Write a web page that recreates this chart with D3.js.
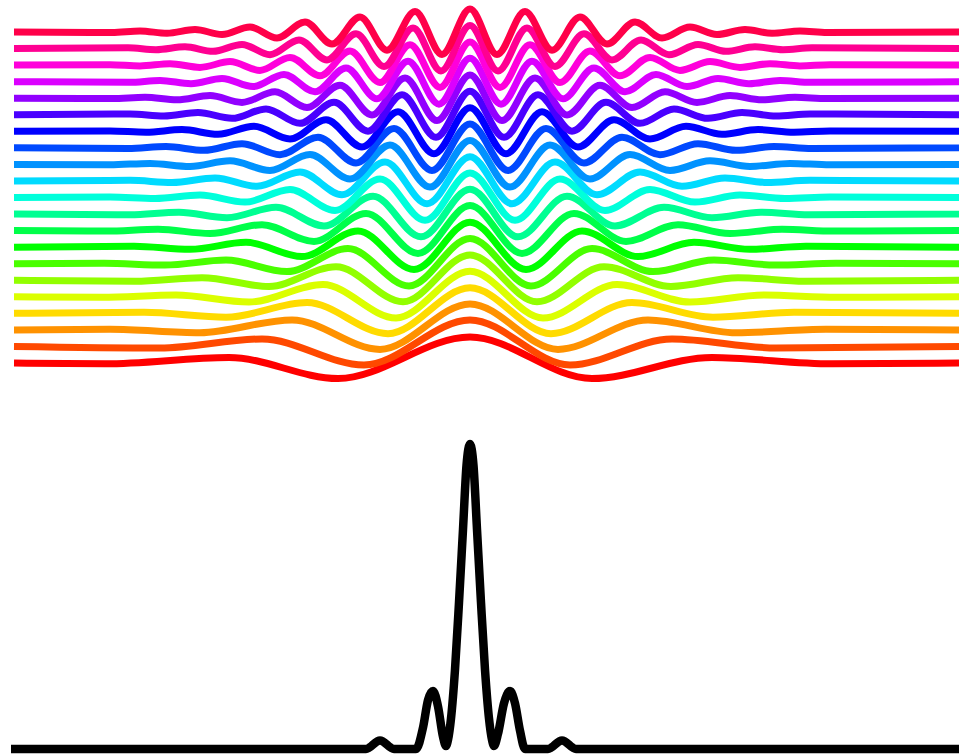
<!DOCTYPE html>
<html>
<head>
<meta charset="utf-8">
<script src="https://cdn.jsdelivr.net/npm/d3@7"></script>
<style>
  html, body { margin: 0; padding: 0; background: #ffffff; }
  svg { display: block; }
</style>
</head>
<body>
<svg id="chart" width="959" height="756"></svg>
<script>
// Component waves, lowest frequency (row00) to highest (row20).
// Each point: [offset from packet centre, displacement] at the wave's crests and troughs,
// with the flat ends of every trace.
const row00 = [[-456,0],[-365,-0.8],[-241,5.5],[-132,-15.5],[0,26],[122,-15.5],[242,5.5],[362,-0.8],[489,0]];
const row01 = [[-456,0],[-310,-1.5],[-208,7.5],[-106,-18.5],[0,26.5],[100,-18.5],[202,7.5],[306,-1.5],[489,0]];
const row02 = [[-456,0],[-360,0.6],[-270,-2.8],[-178,10],[-90,-19.5],[0,26],[88,-19.5],[178,10],[266,-2.8],[356,0.6],[489,0]];
const row03 = [[-456,0],[-326,1.1],[-244,-3.8],[-163,10.8],[-82,-20.3],[0,25.5],[81,-20.3],[162,10.8],[243,-3.8],[324,1.1],[489,0]];
const row04 = [[-456,0],[-368,-0.5],[-294,1.8],[-221,-5.2],[-147,12.2],[-74,-21.2],[0,25.5],[73,-21.2],[147,12.2],[220,-5.2],[294,1.8],[367,-0.5],[489,0]];
const row05 = [[-456,0],[-335,-0.9],[-268,2.6],[-201,-6.2],[-134,13.6],[-67,-21.6],[0,25.3],[67,-21.6],[134,13.6],[201,-6.2],[268,2.6],[335,-0.9],[489,0]];
const row06 = [[-456,0],[-366,0.5],[-305,-1.4],[-244,3.6],[-183,-7.9],[-122,15.1],[-61,-22.2],[0,25.2],[61,-22.2],[122,15.1],[183,-7.9],[244,3.6],[305,-1.4],[366,0.5],[489,0]];
const row07 = [[-456,0],[-336,0.9],[-280,-2.2],[-224,4.8],[-168,-9.4],[-112,16.2],[-56,-22.4],[0,25],[56,-22.4],[112,16.2],[168,-9.4],[224,4.8],[280,-2.2],[336,0.9],[489,0]];
const row08 = [[-456,0],[-364,-0.5],[-312,1.3],[-260,-2.9],[-208,5.9],[-156,-10.8],[-104,17.2],[-52,-22.8],[0,25],[52,-22.8],[104,17.2],[156,-10.8],[208,5.9],[260,-2.9],[312,1.3],[364,-0.5],[489,0]];
const row09 = [[-456,0],[-340,-0.8],[-291,1.8],[-243,-3.6],[-194,6.7],[-146,-11.9],[-97,17.9],[-49,-22.8],[0,24.8],[48,-22.8],[97,17.9],[145,-11.9],[194,6.7],[242,-3.6],[291,1.8],[339,-0.8],[489,0]];
const row10 = [[-456,0],[-360,0.5],[-315,-1.1],[-270,2.4],[-225,-4.6],[-180,8.0],[-135,-13.0],[-90,18.5],[-45,-22.8],[0,24.5],[45,-22.8],[90,18.5],[135,-13.0],[180,8.0],[225,-4.6],[270,2.4],[315,-1.1],[360,0.5],[489,0]];
const row11 = [[-456,0],[-340,0.6],[-298,-1.5],[-255,3.0],[-213,-5.4],[-170,8.9],[-128,-13.8],[-85,18.9],[-43,-22.8],[0,24.3],[42,-22.8],[85,18.9],[127,-13.8],[170,8.9],[212,-5.4],[255,3.0],[297,-1.5],[340,0.6],[489,0]];
const row12 = [[-456,0],[-360,-0.4],[-320,1.0],[-280,-2.0],[-240,3.6],[-200,-6.0],[-160,9.9],[-120,-14.6],[-80,19.3],[-40,-22.7],[0,24],[40,-22.7],[80,19.3],[120,-14.6],[160,9.9],[200,-6.0],[240,3.6],[280,-2.0],[320,1.0],[360,-0.4],[489,0]];
const row13 = [[-456,0],[-342,-0.7],[-304,1.3],[-266,-2.5],[-228,4.2],[-190,-6.8],[-152,10.7],[-114,-15.1],[-76,19.4],[-38,-22.6],[0,23.8],[38,-22.6],[76,19.4],[114,-15.1],[152,10.7],[190,-6.8],[228,4.2],[266,-2.5],[304,1.3],[342,-0.7],[489,0]];
const row14 = [[-456,0],[-360,0.4],[-324,-0.9],[-288,1.7],[-252,-3.0],[-216,5.0],[-180,-7.7],[-144,11.5],[-108,-15.7],[-72,19.6],[-36,-22.5],[0,23.5],[36,-22.5],[72,19.6],[108,-15.7],[144,11.5],[180,-7.7],[216,5.0],[252,-3.0],[288,1.7],[324,-0.9],[360,0.4],[489,0]];
const row15 = [[-456,0],[-340,0.7],[-306,-1.3],[-272,2.2],[-238,-3.6],[-204,5.8],[-170,-8.6],[-136,12.4],[-102,-16.4],[-68,20.0],[-34,-22.6],[0,23.5],[34,-22.6],[68,20.0],[102,-16.4],[136,12.4],[170,-8.6],[204,5.8],[238,-3.6],[272,2.2],[306,-1.3],[340,0.7],[489,0]];
const row16 = [[-456,0],[-358,-0.4],[-325,0.9],[-293,-1.6],[-260,2.6],[-228,-4.2],[-195,6.4],[-163,-9.3],[-130,13.0],[-98,-16.7],[-65,20.1],[-33,-22.4],[0,23.3],[32,-22.4],[65,20.1],[97,-16.7],[130,13.0],[162,-9.3],[195,6.4],[227,-4.2],[260,2.6],[292,-1.6],[325,0.9],[357,-0.4],[489,0]];
const row17 = [[-456,0],[-341,-0.7],[-310,1.2],[-279,-2.0],[-248,3.2],[-217,-4.9],[-186,7.2],[-155,-10.1],[-124,13.7],[-93,-17.2],[-62,20.4],[-31,-22.5],[0,23.3],[31,-22.5],[62,20.4],[93,-17.2],[124,13.7],[155,-10.1],[186,7.2],[217,-4.9],[248,3.2],[279,-2.0],[310,1.2],[341,-0.7],[489,0]];
const row18 = [[-456,0],[-360,0.4],[-330,-0.8],[-300,1.4],[-270,-2.3],[-240,3.5],[-210,-5.3],[-180,7.7],[-150,-10.6],[-120,14.0],[-90,-17.4],[-60,20.3],[-30,-22.3],[0,23],[30,-22.3],[60,20.3],[90,-17.4],[120,14.0],[150,-10.6],[180,7.7],[210,-5.3],[240,3.5],[270,-2.3],[300,1.4],[330,-0.8],[360,0.4],[489,0]];
const row19 = [[-456,0],[-342,0.7],[-314,-1.1],[-285,1.8],[-257,-2.8],[-228,4.1],[-200,-6.1],[-171,8.6],[-143,-11.4],[-114,14.7],[-86,-17.9],[-57,20.6],[-29,-22.4],[0,23],[28,-22.4],[57,20.6],[85,-17.9],[114,14.7],[142,-11.4],[171,8.6],[199,-6.1],[228,4.1],[256,-2.8],[285,1.8],[313,-1.1],[342,0.7],[489,0]];
const row20 = [[-456,0],[-358,-0.5],[-330,1.0],[-303,-1.3],[-275,2.5],[-248,-2.5],[-220,5.0],[-193,-6.0],[-165,10.0],[-138,-12.0],[-110,15.0],[-83,-18.2],[-55,20.5],[-28,-22.4],[0,23],[27,-22.4],[55,20.5],[82,-18.2],[110,15.0],[137,-12.0],[165,10.0],[192,-6.0],[220,5.0],[247,-2.5],[275,2.5],[302,-1.3],[330,1.0],[357,-0.5],[489,0]];

const rows = [row00, row01, row02, row03, row04, row05, row06, row07, row08, row09, row10,
              row11, row12, row13, row14, row15, row16, row17, row18, row19, row20];

// Vertical gap between neighbouring traces (same units as the displacement)
const ROW_GAP = 16.55;

// Superposition of all components: offset from centre and relative intensity
const sumOffsets   = [-459, -104, -90, -76, -54, -47, -42, -37, -32, -27, -24, -22, -19, -15, -11, -7, -3.5, 0, 3.5, 7, 11, 15, 19, 22, 24, 28, 34, 40, 45, 50, 55, 78, 92, 106, 489];
const sumIntensity = [0, 0, 0.028, 0, 0, 0.07, 0.16, 0.19, 0.14, 0.04, 0.01, 0.03, 0.10, 0.26, 0.48, 0.72, 0.93, 1.0, 0.93, 0.72, 0.48, 0.26, 0.10, 0.03, 0.01, 0.05, 0.15, 0.19, 0.15, 0.06, 0, 0, 0.028, 0, 0];

const svg = d3.select("#chart");

const x = d3.scaleLinear().domain([-456, 489]).range([14, 959]);
const yTop = d3.scaleLinear().domain([0, 20 * ROW_GAP]).range([363, 32]);
const yBottom = d3.scaleLinear().domain([0, 1]).range([749, 444]);

// HSV-style rainbow: hue runs from red upward around the wheel
const colour = d3.scaleLinear().domain([0, rows.length]).range([0, 360]);

const gTop = svg.append("g").attr("class", "components");

rows.forEach((row, i) => {
  const line = d3.line()
    .x(d => x(d[0]))
    .y(d => yTop(i * ROW_GAP + d[1]))
    .curve(d3.curveMonotoneX);
  gTop.append("path")
    .datum(row)
    .attr("d", line)
    .attr("fill", "none")
    .attr("stroke", d3.hsl(colour(i), 1, 0.5).formatHex())
    .attr("stroke-width", 7)
    .attr("stroke-linejoin", "round");
});

const sumData = sumOffsets.map((o, k) => [o, sumIntensity[k]]);
const sumLine = d3.line()
  .x(d => x(d[0]))
  .y(d => yBottom(d[1]))
  .curve(d3.curveMonotoneX);

svg.append("path")
  .datum(sumData)
  .attr("class", "packet")
  .attr("d", sumLine)
  .attr("fill", "none")
  .attr("stroke", "#000000")
  .attr("stroke-width", 8.5)
  .attr("stroke-linejoin", "round");
</script>
</body>
</html>
